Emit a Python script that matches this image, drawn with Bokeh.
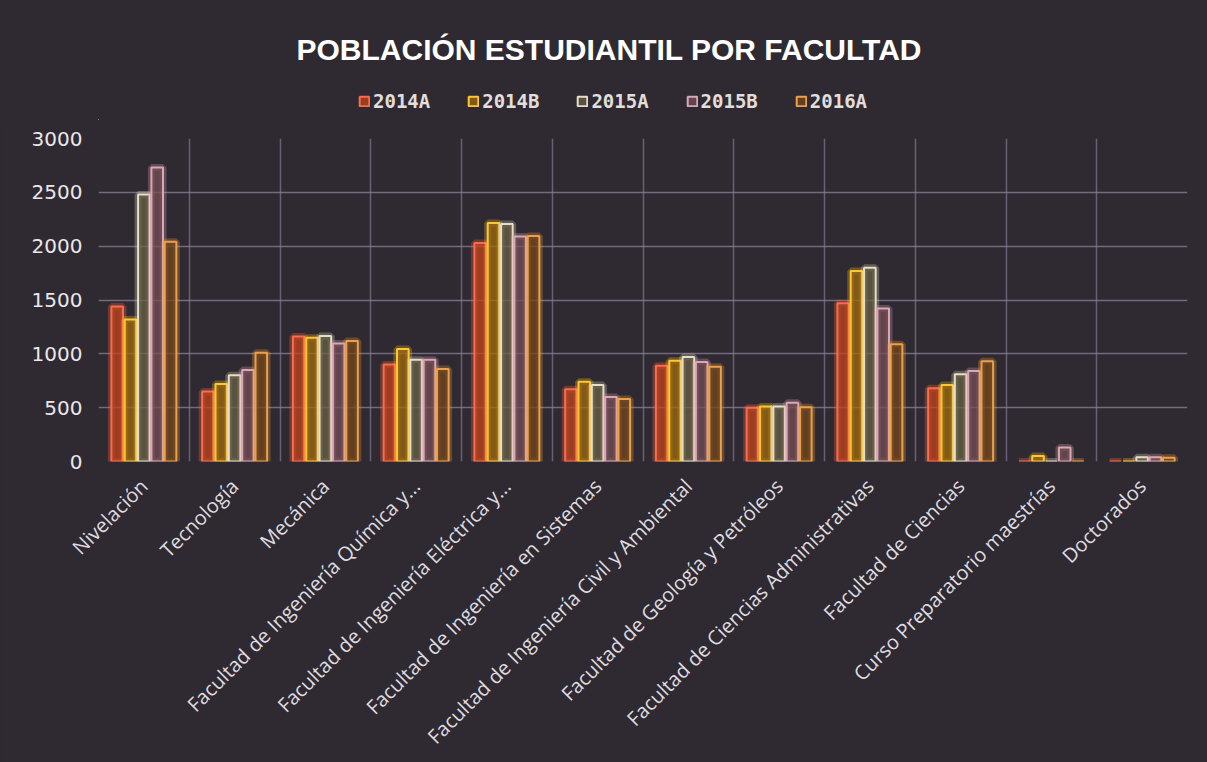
import math
from bokeh.plotting import figure
from bokeh.layouts import column
from bokeh.models import ColumnDataSource, FixedTicker, Legend, LegendItem, Range1d
from bokeh.transform import dodge
from bokeh.embed import file_html
from bokeh.resources import INLINE

categories = [
    "Nivelación",
    "Tecnología",
    "Mecánica",
    "Facultad de Ingeniería Química y...",
    "Facultad de Ingeniería Eléctrica y...",
    "Facultad de Ingeniería en Sistemas",
    "Facultad de Ingeniería Civil y Ambiental",
    "Facultad de Geología y Petróleos",
    "Facultad de Ciencias Administrativas",
    "Facultad de Ciencias",
    "Curso Preparatorio maestrías",
    "Doctorados",
]
series_names = ["2014A", "2014B", "2015A", "2015B", "2016A"]
v2014A = [1440, 650, 1160, 900, 2030, 670, 890, 500, 1470, 680, 0, 0]
v2014B = [1320, 720, 1150, 1045, 2215, 740, 935, 510, 1770, 710, 50, 0]
v2015A = [2480, 800, 1165, 945, 2205, 710, 970, 510, 1800, 810, 0, 40]
v2015B = [2730, 850, 1095, 945, 2090, 600, 925, 545, 1420, 840, 130, 40]
v2016A = [2040, 1010, 1120, 860, 2095, 580, 880, 505, 1090, 930, 0, 35]
y_ticks = [0, 500, 1000, 1500, 2000, 2500, 3000]
title_text = "POBLACIÓN ESTUDIANTIL POR FACULTAD"

outline_colors = ["#ff6a4c", "#ffc832", "#e6dec6", "#dca6b6", "#eea046"]
fill_colors = ["#c0441e", "#a06a0e", "#686044", "#744e56", "#74461e"]
offsets = [-0.294, -0.147, 0.0, 0.147, 0.294]
bar_w = 0.128
cols = ["s2014A", "s2014B", "s2015A", "s2015B", "s2016A"]

src = ColumnDataSource(dict(
    x=list(range(len(categories))),
    s2014A=v2014A, s2014B=v2014B, s2015A=v2015A, s2015B=v2015B, s2016A=v2016A,
))

BG = "#2f2a31"

# ---- header figure: title + legend ----
top = figure(width=1207, height=120, output_backend="svg", toolbar_location=None,
             x_range=Range1d(0, 1), y_range=Range1d(1, 2),
             min_border_left=98, min_border_right=20, min_border_bottom=0, min_border_top=80)
top.background_fill_color = None
top.border_fill_color = None
top.outline_line_color = None
top.axis.visible = False
top.grid.visible = False
top.title.text = title_text
top.title.text_font = "Liberation Sans"
top.title.text_font_style = "bold"
top.title.text_font_size = "30px"
top.title.text_color = "#ffffff"
top.title.align = "left"
top.title.offset = 198
top.title.standoff = 30

# legend proxies: one zero-height bar placed outside the header's ranges
proxy = ColumnDataSource(dict(x=[-3], top=[-3]))
items = []
for name, oc, fc in zip(series_names, outline_colors, fill_colors):
    r = top.vbar(x="x", top="top", bottom=-3, width=0.1, source=proxy,
                 fill_color=fc, fill_alpha=0.75, line_color=oc, line_width=2)
    items.append(LegendItem(label=name, renderers=[r]))
legend = Legend(items=items, orientation="horizontal", location=(260, 8),
                background_fill_alpha=0, border_line_color=None,
                label_text_color="#e2dedc", label_text_font="DejaVu Sans Mono",
                label_text_font_style="bold", label_text_font_size="19px",
                glyph_width=12, glyph_height=12, spacing=37, label_standoff=3,
                margin=0, padding=2)
top.add_layout(legend)

# ---- main chart ----
p = figure(frame_width=1089, frame_height=323, output_backend="svg", toolbar_location=None,
           x_range=Range1d(-0.5, len(categories) - 0.5), y_range=Range1d(0, 3000),
           min_border_left=98, min_border_right=20, min_border_bottom=301, min_border_top=18)
p.background_fill_color = BG
p.border_fill_color = BG
p.outline_line_color = None

p.ygrid.ticker = FixedTicker(ticks=y_ticks)
p.ygrid.grid_line_color = "#8e86a2"
p.ygrid.grid_line_alpha = 0.7
p.ygrid.grid_line_width = 1.5
p.xgrid.ticker = FixedTicker(ticks=[i - 0.5 for i in range(len(categories) + 1)])
p.xgrid.grid_line_color = "#8e86a2"
p.xgrid.grid_line_alpha = 0.6
p.xgrid.grid_line_width = 1.5

p.yaxis.ticker = FixedTicker(ticks=y_ticks)
p.yaxis.axis_line_color = None
p.yaxis.major_tick_line_color = None
p.yaxis.minor_tick_line_color = None
p.yaxis.major_label_text_font = "DejaVu Sans"
p.yaxis.major_label_text_font_size = "20px"
p.yaxis.major_label_text_color = "#ebe7ea"
p.yaxis.major_label_standoff = 10

p.xaxis.ticker = FixedTicker(ticks=list(range(len(categories))))
p.xaxis.major_label_overrides = {i: c for i, c in enumerate(categories)}
p.xaxis.axis_line_color = None
p.xaxis.major_tick_line_color = None
p.xaxis.minor_tick_line_color = None
p.xaxis.major_label_orientation = math.pi / 4
p.xaxis.major_label_text_font = "Open Sans"
p.xaxis.major_label_text_font_size = "20px"
p.xaxis.major_label_text_color = "#dedbe0"
p.xaxis.major_label_standoff = 15

for name, col, off, oc, fc in zip(series_names, cols, offsets, outline_colors, fill_colors):
    p.vbar(x=dodge("x", off, range=p.x_range), top=col, width=bar_w, source=src,
           fill_color=None, line_color=oc, line_alpha=0.28, line_width=7)
    p.vbar(x=dodge("x", off, range=p.x_range), top=col, width=bar_w, source=src,
           fill_color=fc, fill_alpha=0.75, line_color=oc, line_width=2)

layout = column(top, p, spacing=0, styles={"background-color": BG})
open("out.html", "w").write(file_html(layout, INLINE))
